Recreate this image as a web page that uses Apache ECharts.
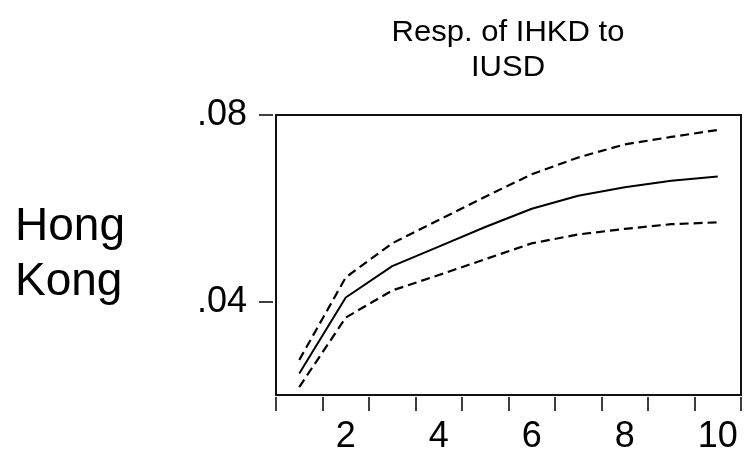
<!DOCTYPE html>
<html>
<head>
<meta charset="utf-8">
<script src="https://cdn.jsdelivr.net/npm/echarts@6/dist/echarts.min.js"></script>
<style>
  html, body { margin: 0; padding: 0; background: #fff; }
  #chart { width: 752px; height: 456px; }
</style>
</head>
<body>
<div id="chart"></div>
<script>
// Impulse response horizons
const periods = ['1', '2', '3', '4', '5', '6', '7', '8', '9', '10'];
// Response of IHKD to a shock in IUSD, with upper/lower error bands
const response = [0.0246, 0.0409, 0.0476, 0.0518, 0.0560, 0.0599, 0.0627, 0.0645, 0.0659, 0.0668];
const upperBand = [0.0275, 0.0452, 0.0525, 0.0575, 0.0625, 0.0673, 0.0709, 0.0737, 0.0753, 0.0768];
const lowerBand = [0.0217, 0.0366, 0.0424, 0.0457, 0.0491, 0.0525, 0.0544, 0.0556, 0.0566, 0.0570];
// Labelled ticks on the value axis
const yTicks = [0.04, 0.08];
const xLabelled = ['2', '4', '6', '8', '10'];

const FONT = '"Liberation Sans", Arial, sans-serif';
const chart = echarts.init(document.getElementById('chart'), null, { renderer: 'canvas' });

const bandStyle = { color: '#000', width: 2.2, type: [9, 5] };

chart.setOption({
  animation: false,
  backgroundColor: '#fff',
  grid: {
    left: 276, top: 115, right: 11, bottom: 61,
    show: true, borderColor: '#111', borderWidth: 2, backgroundColor: 'transparent'
  },
  xAxis: {
    type: 'category',
    data: periods,
    boundaryGap: true,
    offset: 2,
    axisLine: { show: false },
    axisTick: { show: true, interval: 0, length: 14, lineStyle: { color: '#000', width: 1.5 } },
    axisLabel: {
      interval: 0,
      margin: 22,
      fontFamily: FONT, fontSize: 36, color: '#000',
      formatter: v => xLabelled.includes(v) ? v : ''
    },
    splitLine: { show: false }
  },
  yAxis: {
    type: 'value',
    min: 0.02, max: 0.08,
    offset: 3,
    axisLine: { show: false },
    axisTick: { show: true, length: 14, customValues: yTicks, lineStyle: { color: '#000', width: 1.5 } },
    axisLabel: {
      customValues: yTicks,
      margin: 26,
      fontFamily: FONT, fontSize: 36, color: '#000',
      formatter: v => v.toFixed(2).replace(/^0/, '')
    },
    splitLine: { show: false }
  },
  graphic: [
    {
      type: 'text', left: 15, top: 200,
      style: {
        text: 'Hong\nKong', fontFamily: FONT, fontSize: 46, lineHeight: 55,
        fill: '#000'
      }
    },
    {
      type: 'text', x: 508, y: 15, scaleX: 1.07,
      style: {
        text: 'Resp. of IHKD to\nIUSD', fontFamily: FONT, fontSize: 29, lineHeight: 35,
        fill: '#000', align: 'center'
      }
    }
  ],
  series: [
    {
      name: 'upper', type: 'line', data: upperBand, symbol: 'none',
      lineStyle: bandStyle, silent: true
    },
    {
      name: 'response', type: 'line', data: response, symbol: 'none',
      lineStyle: { color: '#000', width: 2 }, silent: true
    },
    {
      name: 'lower', type: 'line', data: lowerBand, symbol: 'none',
      lineStyle: bandStyle, silent: true
    }
  ]
});
</script>
</body>
</html>
